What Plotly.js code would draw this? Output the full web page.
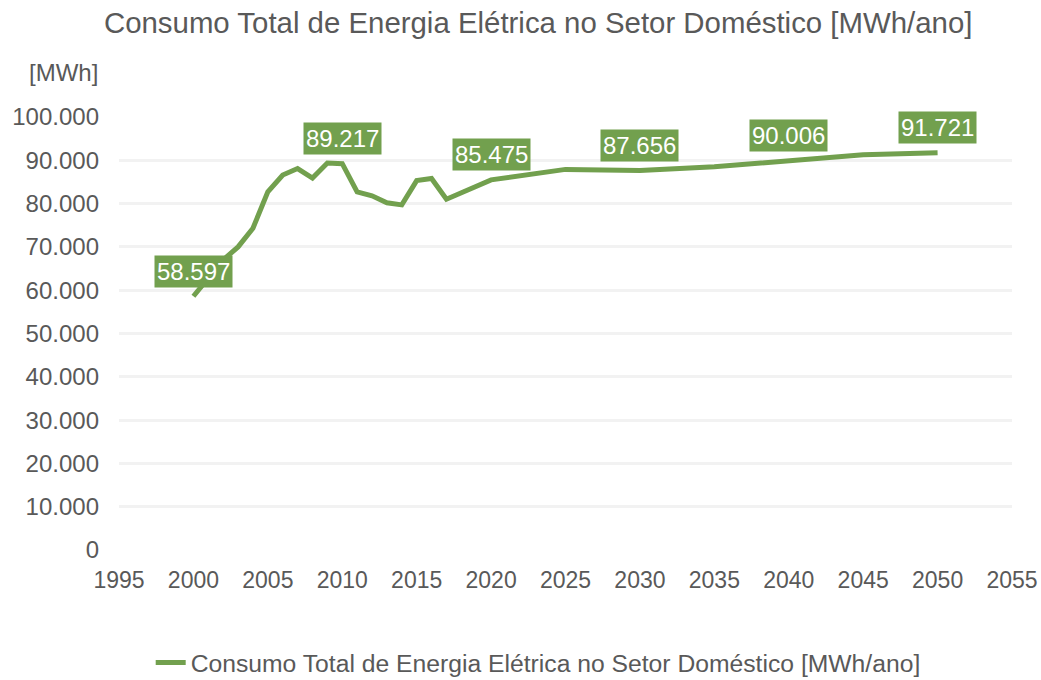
<!DOCTYPE html>
<html>
<head>
<meta charset="utf-8">
<script src="https://cdn.plot.ly/plotly-3.0.1.min.js"></script>
<style>html,body{margin:0;padding:0;background:#fff;}#chart{width:1041px;height:680px;}</style>
</head>
<body>
<div id="chart"></div>
<script>
const years = [2000,2001,2002,2003,2004,2005,2006,2007,2008,2009,2010,2011,2012,2013,2014,2015,2016,2017,2020,2025,2030,2035,2040,2045,2050];
const consumo = [58597,63000,67000,70000,74300,82700,86600,88100,85900,89350,89217,82700,81800,80200,79700,85300,85800,81000,85475,87900,87656,88500,90006,91300,91721];
const labelYears = [2000,2010,2020,2030,2040,2050];
const seriesName = 'Consumo Total de Energia Elétrica no Setor Doméstico [MWh/ano]';
const titleText = 'Consumo Total de Energia Elétrica no Setor Doméstico [MWh/ano]';
const unitText = '[MWh]';

const green = '#72a04e';
const txt = '#595959';
const fontFam = '"Liberation Sans", Arial, sans-serif';

const annotations = labelYears.map(yr => {
  const v = consumo[years.indexOf(yr)];
  return {
    x: yr, y: v, xref: 'x', yref: 'y',
    text: v.toLocaleString('de-DE'),
    showarrow: false, yshift: 25,
    bgcolor: green, borderpad: 2,
    font: {family: fontFam, size: 24, color: '#ffffff'}
  };
});
annotations.push({
  text: unitText, xref: 'paper', yref: 'paper', x: -0.021, y: 1.102,
  xanchor: 'right', yanchor: 'middle', showarrow: false,
  font: {family: fontFam, size: 24, color: txt}
});

const trace = {
  x: years, y: consumo, type: 'scatter', mode: 'lines', name: seriesName,
  line: {color: green, width: 5, shape: 'linear'}
};

const layout = {
  width: 1041, height: 680,
  paper_bgcolor: '#fff', plot_bgcolor: '#fff',
  separators: ',.',
  margin: {l: 119, r: 29, t: 117, b: 130},
  title: {text: titleText, x: 0.517, xanchor: 'center', y: 0.967, yanchor: 'middle',
          font: {family: fontFam, size: 29.4, color: txt}},
  font: {family: fontFam, color: txt},
  xaxis: {
    range: [1995, 2055], dtick: 5, tick0: 1995, showgrid: false, zeroline: false,
    showline: false, ticks: '', tickfont: {family: fontFam, size: 23, color: txt},
    ticklabelstandoff: 14, automargin: false
  },
  yaxis: {
    range: [0, 100000], dtick: 10000, tickformat: ',d', showgrid: true,
    gridcolor: '#f2f2f2', gridwidth: 3, zeroline: false, showline: false, ticks: '',
    tickfont: {family: fontFam, size: 24, color: txt}, ticklabelstandoff: 19, automargin: false
  },
  showlegend: true,
  legend: {orientation: 'h', x: 0.517, xanchor: 'center', xref: 'container',
           y: 0.025, yanchor: 'middle', yref: 'container',
           font: {family: fontFam, size: 24.7, color: txt}, itemwidth: 30},
  annotations: annotations
};

Plotly.newPlot('chart', [trace], layout, {displayModeBar: false, staticPlot: true});
</script>
</body>
</html>
